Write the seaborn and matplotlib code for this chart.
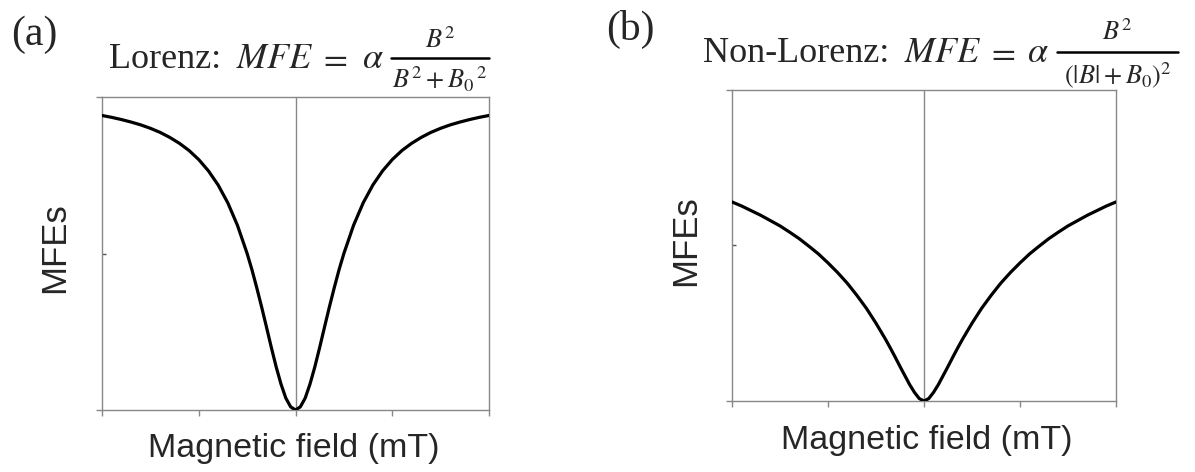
import matplotlib
matplotlib.use("Agg")
import matplotlib.pyplot as plt
from matplotlib.lines import Line2D
import seaborn as sns
import pandas as pd

# ---- data (field in arbitrary units, MFE normalised) ----
field = [-2.0, -1.9, -1.8, -1.7, -1.6, -1.5, -1.4, -1.3, -1.2, -1.1, -1.0, -0.9, -0.8,
         -0.7, -0.6, -0.5, -0.45, -0.4, -0.35, -0.3, -0.25, -0.2, -0.15, -0.1, -0.05,
         0.0, 0.05, 0.1, 0.15, 0.2, 0.25, 0.3, 0.35, 0.4, 0.45, 0.5, 0.6, 0.7, 0.8,
         0.9, 1.0, 1.1, 1.2, 1.3, 1.4, 1.5, 1.6, 1.7, 1.8, 1.9, 2.0]
mfe_lorenz = [0.941, 0.935, 0.928, 0.920, 0.911, 0.900, 0.887, 0.871, 0.852, 0.829,
              0.800, 0.764, 0.719, 0.662, 0.590, 0.500, 0.448, 0.390, 0.329, 0.265,
              0.200, 0.138, 0.083, 0.038, 0.010, 0.000, 0.010, 0.038, 0.083, 0.138,
              0.200, 0.265, 0.329, 0.390, 0.448, 0.500, 0.590, 0.662, 0.719, 0.764,
              0.800, 0.829, 0.852, 0.871, 0.887, 0.900, 0.911, 0.920, 0.928, 0.935, 0.941]
mfe_nonlorenz = [0.640, 0.627, 0.612, 0.597, 0.580, 0.563, 0.543, 0.522, 0.498, 0.473,
                 0.444, 0.413, 0.379, 0.340, 0.298, 0.250, 0.224, 0.198, 0.170, 0.141,
                 0.111, 0.082, 0.053, 0.028, 0.008, 0.000, 0.008, 0.028, 0.053, 0.082,
                 0.111, 0.141, 0.170, 0.198, 0.224, 0.250, 0.298, 0.340, 0.379, 0.413,
                 0.444, 0.473, 0.498, 0.522, 0.543, 0.563, 0.580, 0.597, 0.612, 0.627, 0.640]
x_ticks = [-2, -1, 0, 1, 2]
y_major = [0, 1]
y_minor = [0.5]

panel_labels = ["(a)", "(b)"]
title_words = ["Lorenz:", "Non-Lorenz:"]
title_numerators = [r"$B^2$", r"$B^2$"]
title_denominators = [r"$B^2+{B_0}^{\,2}$", r"$(|B|+B_0)^2$"]
xlabel = "Magnetic field (mT)"
ylabel = "MFEs"

sns.set_style("white")
plt.rcParams["mathtext.fontset"] = "stix"
SERIF = ["Liberation Serif", "DejaVu Serif"]
SANS = ["Liberation Sans", "DejaVu Sans"]

W, H = 1195, 472
fig = plt.figure(figsize=(W / 100, H / 100), dpi=100)
GRAY = "#888888"


def fx(px):
    return px / W


def fy(py):
    return 1 - py / H


# axes boxes in pixels: left, right, top, bottom
boxes = [(102, 489, 97, 410), (732, 1116, 90, 401)]
series = [mfe_lorenz, mfe_nonlorenz]

for (l, r, t, b), vals in zip(boxes, series):
    ax = fig.add_axes([fx(l), fy(b), (r - l) / W, (b - t) / H])
    df = pd.DataFrame({"B": field, "MFE": vals})
    sns.lineplot(data=df, x="B", y="MFE", ax=ax, color="black", lw=2.3,
                 sort=False, zorder=3)
    ax.axvline(0, color=GRAY, lw=1.0, zorder=1)
    ax.set_xlim(-2, 2)
    ax.set_ylim(0, 1)
    for s in ax.spines.values():
        s.set_color(GRAY)
        s.set_linewidth(1.0)
    ax.set_xticks(x_ticks)
    ax.set_yticks(y_major)
    ax.set_yticks(y_minor, minor=True)
    ax.set_xticklabels([])
    ax.set_yticklabels([])
    ax.tick_params(axis="x", which="major", direction="out", length=4, width=1,
                   color=GRAY, bottom=True)
    ax.tick_params(axis="y", which="major", direction="out", length=4, width=1,
                   color=GRAY, left=True)
    ax.tick_params(axis="y", which="minor", direction="in", length=3, width=1,
                   color="#555555", left=True)
    ax.set_xlabel("")
    ax.set_ylabel("")
    ax.grid(False)

# panel labels
fig.text(fx(11), fy(45), panel_labels[0], family=SERIF, fontsize=30,
         ha="left", va="baseline")
fig.text(fx(606), fy(40), panel_labels[1], family=SERIF, fontsize=30,
         ha="left", va="baseline")

# titles, built from pieces: word, MFE, =, alpha, fraction
# (x_word, x_mfe, x_eq, x_alpha, baseline, bar_l, bar_r, bar_y, num_base, den_base)
title_layout = [
    (109, 236, 318, 362, 68, 391, 489, 58, 48, 88),
    (703, 904, 986, 1027, 62, 1057, 1178, 52, 40, 83),
]
for word, num, den, (xw, xm, xe, xa, base, bl, br, by, nb, db) in zip(
        title_words, title_numerators, title_denominators, title_layout):
    fig.text(fx(xw), fy(base), word, family=SERIF, fontsize=26,
             ha="left", va="baseline")
    fig.text(fx(xm), fy(base), r"$MFE$", fontsize=26, ha="left", va="baseline")
    fig.text(fx(xe), fy(base), r"$=$", fontsize=25, ha="left", va="baseline")
    fig.text(fx(xa), fy(base), r"$\alpha$", fontsize=26, ha="left", va="baseline")
    fig.add_artist(Line2D([fx(bl), fx(br)], [fy(by), fy(by)],
                          transform=fig.transFigure, color="black", lw=1.8))
    fig.text(fx((bl + br) / 2), fy(nb), num, fontsize=19, ha="center", va="baseline")
    fig.text(fx((bl + br) / 2), fy(db), den, fontsize=19, ha="center", va="baseline")

# axis labels
fig.text(fx(294), fy(457), xlabel, family=SANS, fontsize=24.5,
         ha="center", va="baseline")
fig.text(fx(927), fy(449), xlabel, family=SANS, fontsize=24.5,
         ha="center", va="baseline")
fig.text(fx(55), fy(248), ylabel, family=SANS, fontsize=25, rotation=90,
         ha="center", va="center")
fig.text(fx(686), fy(241), ylabel, family=SANS, fontsize=25, rotation=90,
         ha="center", va="center")

fig.savefig("out.png", dpi=100)
